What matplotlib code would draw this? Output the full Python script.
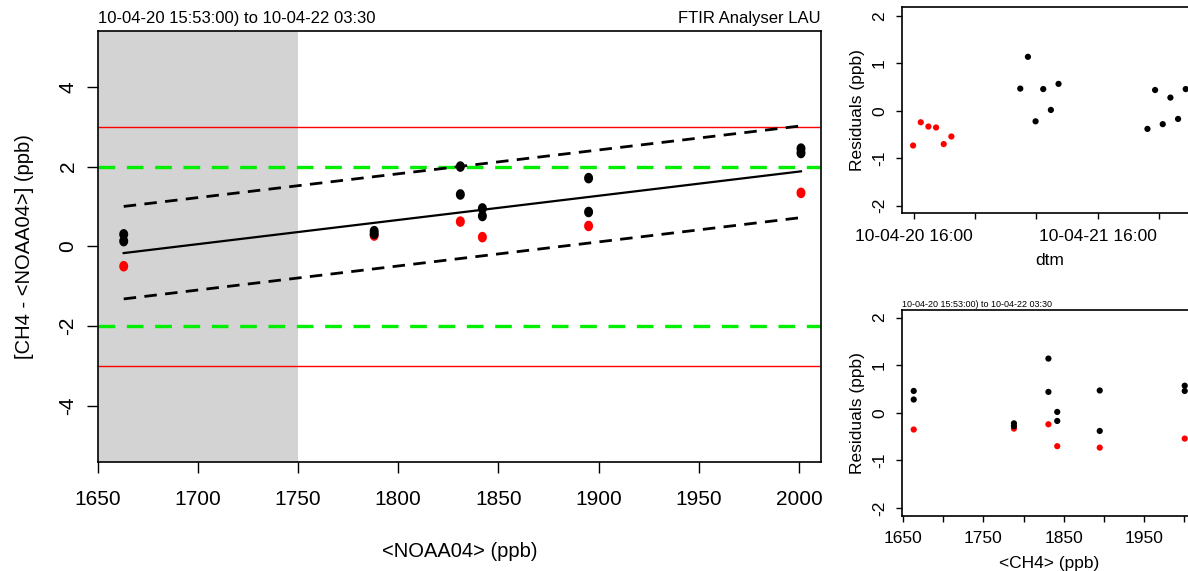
import numpy as np
import pandas as pd
import matplotlib
matplotlib.use('Agg')
import matplotlib.pyplot as plt
import matplotlib.dates as mdates

plt.rcParams['font.family'] = ['Liberation Sans', 'DejaVu Sans']
plt.rcParams['axes.unicode_minus'] = False

# measurements (3 cycles over the 6 tanks), in time order
noaa = [1895, 1831, 1788, 1663, 1842, 2001,
        1895, 1831, 1788, 1663, 1842, 2001,
        1895, 1831, 1788, 1663, 1842, 2001]
diff = [0.51, 0.62, 0.27, -0.50, 0.23, 1.34,
        1.71, 2.00, 0.38, 0.30, 0.95, 2.45,
        0.86, 1.30, 0.31, 0.13, 0.76, 2.34]
resid = [-0.73, -0.24, -0.33, -0.35, -0.70, -0.54,
         0.47, 1.14, -0.22, 0.46, 0.02, 0.57,
         -0.38, 0.44, -0.28, 0.28, -0.17, 0.46]
times = ['2010-04-20 15:53', '2010-04-20 16:53', '2010-04-20 17:53',
         '2010-04-20 18:53', '2010-04-20 19:53', '2010-04-20 20:53',
         '2010-04-21 05:53', '2010-04-21 06:53', '2010-04-21 07:53',
         '2010-04-21 08:53', '2010-04-21 09:53', '2010-04-21 10:53',
         '2010-04-21 22:30', '2010-04-21 23:30', '2010-04-22 00:30',
         '2010-04-22 01:30', '2010-04-22 02:30', '2010-04-22 03:30']
colours = ['red'] * 6 + ['black'] * 12

# fitted line and its band
fit_x = [1663, 2001]
fit_y = [-0.17, 1.88]
band_up = [1.00, 3.02]
band_lo = [-1.32, 0.72]
lim_red = [-3, 3]
lim_green = [-2, 2]
shade = [1650, 1750]

title_left = '10-04-20 15:53:00) to 10-04-22 03:30'
title_right = 'FTIR Analyser LAU'

# axis ticks
main_xticks = [1650, 1700, 1750, 1800, 1850, 1900, 1950, 2000]
main_yticks = [-4, -2, 0, 2, 4]
res_yticks = [-2, -1, 0, 1, 2]
ch4_ticks = [1650, 1700, 1750, 1800, 1850, 1900, 1950, 2000]
ch4_labels = ['1650', '', '1750', '', '1850', '', '1950', '']
dtm_ticks = ['2010-04-20 16:00', '2010-04-21 00:00', '2010-04-21 08:00',
             '2010-04-21 16:00', '2010-04-22 00:00']
dtm_labels = ['10-04-20 16:00', '', '', '10-04-21 16:00', '']

t = mdates.date2num(pd.to_datetime(times).to_pydatetime())
tt = mdates.date2num(pd.to_datetime(dtm_ticks).to_pydatetime())

ang = np.linspace(0, 2 * np.pi, 41)
oval = np.column_stack([0.85 * np.cos(ang), np.sin(ang)])

fig = plt.figure(figsize=(11.88, 5.71), dpi=100)


def style(ax, ticklen, labsize, xpad, ypad):
    for s in ax.spines.values():
        s.set_linewidth(1.2)
    ax.tick_params(length=ticklen, width=1, labelsize=labsize, colors='black')
    ax.tick_params(axis='x', pad=xpad)
    ax.tick_params(axis='y', pad=ypad, labelrotation=90)
    for lab in ax.get_yticklabels():
        lab.set_va('center')


# main panel
ax = fig.add_axes([0.0822, 0.1909, 0.6089, 0.7548])
ax.axvspan(shade[0], shade[1], color='#d3d3d3', lw=0, zorder=0)
for v in lim_red:
    ax.axhline(v, color='red', lw=1, zorder=1)
for v in lim_green:
    ax.axhline(v, color='#00ee00', lw=2.4, ls=(0, (5, 3.5)), zorder=1)
ax.scatter(noaa, diff, c=colours, marker=oval, s=58, lw=0, zorder=3)
ax.plot(fit_x, fit_y, color='black', lw=1.6, zorder=4)
ax.plot(fit_x, band_up, color='black', lw=2, ls=(0, (4.5, 3)), zorder=4)
ax.plot(fit_x, band_lo, color='black', lw=2, ls=(0, (4.5, 3)), zorder=4)
ax.set_xlim(1650, 2011)
ax.set_ylim(-5.41, 5.40)
ax.set_xticks(main_xticks)
ax.set_yticks(main_yticks)
style(ax, 8, 15, 12, 6.5)
ax.set_xlabel('<NOAA04> (ppb)', fontsize=14.5, labelpad=24)
ax.set_ylabel('[CH4 - <NOAA04>] (ppb)', fontsize=14.5, labelpad=18)
ax.annotate(title_left, (0, 1), xycoords='axes fraction', xytext=(0, 5.5),
            textcoords='offset points', ha='left', va='baseline', fontsize=12)
ax.annotate(title_right, (1, 1), xycoords='axes fraction', xytext=(0, 5.5),
            textcoords='offset points', ha='right', va='baseline', fontsize=12)

# residuals against time
ax2 = fig.add_axes([0.7595, 0.6264, 0.2476, 0.3613])
ax2.scatter(t, resid, c=colours, s=20, lw=0, zorder=3)
ax2.set_xlim(tt[0] - 1.53 / 24, tt[0] + 36.9 / 24)
ax2.set_ylim(-2.16, 2.19)
ax2.set_xticks(tt)
ax2.set_xticklabels(dtm_labels)
ax2.set_yticks(res_yticks)
style(ax2, 4.5, 12.5, 6.5, 6.5)
ax2.set_xlabel('dtm', fontsize=12.5, labelpad=7)
ax2.set_ylabel('Residuals (ppb)', fontsize=12.5, labelpad=5)

# residuals against concentration
ax3 = fig.add_axes([0.7595, 0.0968, 0.2476, 0.3603])
ax3.scatter(noaa, resid, c=colours, s=20, lw=0, zorder=3)
ax3.set_xlim(1648.75, 2015.6)
ax3.set_ylim(-2.16, 2.16)
ax3.set_xticks(ch4_ticks)
ax3.set_xticklabels(ch4_labels)
ax3.set_yticks(res_yticks)
style(ax3, 4.5, 12.5, 6.5, 6.5)
ax3.set_xlabel('<CH4> (ppb)', fontsize=12.5, labelpad=7)
ax3.set_ylabel('Residuals (ppb)', fontsize=12.5, labelpad=5)
ax3.annotate(title_left, (0, 1), xycoords='axes fraction', xytext=(0, 2.5),
             textcoords='offset points', ha='left', va='baseline', fontsize=6.5)

fig.savefig('out.png', dpi=100)
